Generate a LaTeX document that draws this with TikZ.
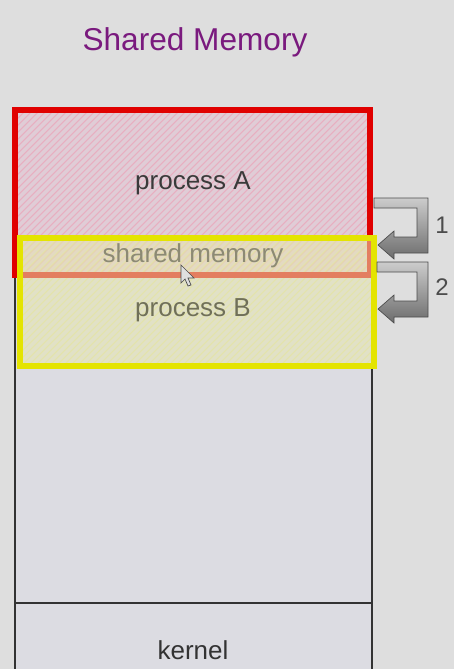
\documentclass[tikz,border=0pt]{standalone}
\usepackage{fontspec}
\setmainfont{Liberation Sans}
\definecolor{bg}{HTML}{DEDEDE}
\definecolor{memfill}{HTML}{DCDCE2}
\definecolor{memline}{HTML}{333333}
\definecolor{pinkfill}{HTML}{E0CCD6}
\definecolor{pinkhatch}{HTML}{E8AEC0}
\definecolor{redline}{HTML}{E00000}
\definecolor{yelfill}{HTML}{E6E6B0}
\definecolor{yelhatch}{HTML}{E2E296}
\definecolor{yelline}{HTML}{E4E400}
\definecolor{titlecol}{HTML}{7A1A7E}
\definecolor{txtA}{HTML}{3A3A3A}
\definecolor{txtS}{HTML}{8C8A74}
\definecolor{txtB}{HTML}{707058}
\tikzset{
  lbl/.style={font=\fontsize{19.5pt}{22pt}\selectfont, inner sep=0pt, anchor=center},
  numlbl/.style={font=\fontsize{18pt}{20pt}\selectfont, text=black!70, inner sep=0pt},
  bentarrow/.style={top color=gray!40, bottom color=gray!85!black, draw=gray!60!black, line width=0.5pt},
}
\begin{document}
\begin{tikzpicture}[x=0.75pt,y=-0.75pt]
\fill[bg] (0,0) rectangle (454,669);
\useasboundingbox (0,0) rectangle (454,669);
\clip (0,0) rectangle (454,669);

% title
\node[font=\fontsize{23.7pt}{26pt}\selectfont, text=titlecol, inner sep=0pt] (title) at (195,42) {Shared Memory};

% memory column
\fill[memfill] (15,108) rectangle (372,680);
\draw[memline, line width=1.5pt] (15,108) -- (15,680);
\draw[memline, line width=1.5pt] (372,108) -- (372,680);
\draw[memline, line width=1.5pt] (15,603) -- (372,603);

% process A region
\fill[pinkfill] (15,110) rectangle (370,275);
\begin{scope}
  \clip (15,110) rectangle (370,275);
  \foreach \i in {-200,-193,...,400} \draw[pinkhatch, line width=0.8pt] (\i,280) -- ++(180,-180);
\end{scope}
% process B hatch (under the red outline and the translucent fill)
\begin{scope}
  \clip (20,238) rectangle (374,366);
  \foreach \i in {-200,-193,...,400} \draw[yelhatch, line width=0.8pt, opacity=0.8] (\i,370) -- ++(140,-140);
\end{scope}
\draw[redline, line width=4.5pt] (15,110) rectangle (370,275);

% process B region
\fill[yelfill, fill opacity=0.55] (20,238) rectangle (374,366);
\draw[yelline, line width=4.5pt] (20,238) rectangle (374,366);

% texts
\node[lbl, text=txtA] (procA) at (193,183) {process A};
\node[lbl, text=txtS] (shmem) at (193,256) {shared memory};
\node[lbl, text=txtB] (procB) at (193,310) {process B};
\node[lbl, text=black!80] (kernel) at (193,650) {kernel};

% cursor
\filldraw[fill=gray!25, draw=black!70, line width=0.5pt]
  (181,265) -- (181,283) -- (185,279) -- (188,286) -- (191,285) -- (188,278) -- (194,278) -- cycle;

% bent arrows
\shade[bentarrow] (374,198) -- (428,198) -- (428,253) -- (394,253) -- (394,259) -- (378,245)
  -- (394,231) -- (394,237) -- (417,237) -- (417,208) -- (374,208) -- cycle;
\shade[bentarrow] (377,262) -- (428,262) -- (428,317) -- (394,317) -- (394,323) -- (378,309)
  -- (394,295) -- (394,301) -- (417,301) -- (417,272) -- (377,272) -- cycle;

\node[numlbl] (lab1) at (442,225) {1};
\node[numlbl] (lab2) at (442,287) {2};
\end{tikzpicture}
\end{document}
